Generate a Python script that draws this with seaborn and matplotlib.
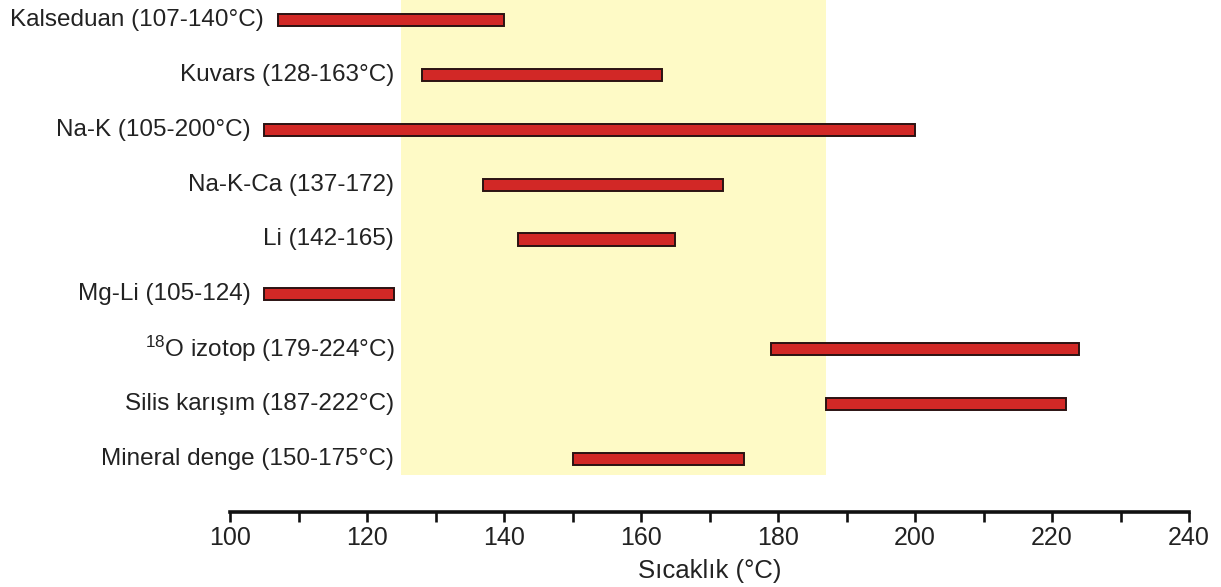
import matplotlib
matplotlib.use("Agg")
import matplotlib.pyplot as plt
from matplotlib.ticker import MultipleLocator
import seaborn as sns
import pandas as pd

# Geothermometer estimates of reservoir temperature
methods = [
    "Kalseduan (107-140°C)",
    "Kuvars (128-163°C)",
    "Na-K (105-200°C)",
    "Na-K-Ca (137-172)",
    "Li (142-165)",
    "Mg-Li (105-124)",
    r"$\mathregular{^{18}}$O izotop (179-224°C)",
    "Silis karışım (187-222°C)",
    "Mineral denge (150-175°C)",
]
t_low = [107, 128, 105, 137, 142, 105, 179, 187, 150]
t_high = [140, 163, 200, 172, 165, 124, 224, 222, 175]

# Most probable reservoir temperature interval (shaded band)
band_low, band_high = 125, 187

x_min, x_max = 100, 240

sns.set_theme(style="white")
plt.rcParams["font.family"] = ["Liberation Sans", "DejaVu Sans"]
plt.rcParams["mathtext.fontset"] = "custom"
plt.rcParams["mathtext.rm"] = "Liberation Sans"
plt.rcParams["mathtext.it"] = "Liberation Sans:italic"

df = pd.DataFrame({
    "method": methods,
    "span": [h - l for l, h in zip(t_low, t_high)],
})

fig = plt.figure(figsize=(12.21, 5.87), dpi=100)
ax = fig.add_axes([0.1884, 0.191, 0.7854, 0.809])

ax.axvspan(band_low, band_high, color="#FEFAC6", zorder=0, lw=0)

sns.barplot(
    data=df, x="span", y="method", order=methods, orient="y",
    width=0.22, color="#D22826", edgecolor="#2B1212", linewidth=1.4,
    left=t_low, saturation=1, ax=ax, zorder=2,
)

# Method names sit to the left of their bar, never past the band edge
label_col = band_low + 1.0
for i, (name, lo) in enumerate(zip(methods, t_low)):
    ax.annotate(name, xy=(min(lo, label_col), i), xytext=(-10, 0),
                textcoords="offset points", ha="right", va="center",
                fontsize=17.5, color="#222222")

ax.set_xlim(x_min, x_max)
ax.set_ylim(8.29, -0.364)
ax.set_ylabel("")
ax.set_yticks([])
ax.set_xlabel("Sıcaklık (°C)", fontsize=18.5, color="#222222", labelpad=7)

ax.xaxis.set_major_locator(MultipleLocator(20))
ax.xaxis.set_minor_locator(MultipleLocator(10))
ax.tick_params(axis="x", which="both", direction="out", length=7,
               width=1.9, color="#111111", bottom=True)
ax.tick_params(axis="x", which="major", labelsize=18, pad=3,
               labelcolor="#222222")

for side in ["left", "top", "right"]:
    ax.spines[side].set_visible(False)
ax.spines["bottom"].set_position(("outward", 26.6))
ax.spines["bottom"].set_linewidth(2.6)
ax.spines["bottom"].set_color("#111111")
ax.spines["bottom"].set_capstyle("projecting")
ax.patch.set_alpha(0)

fig.savefig("out.png", dpi=100)
